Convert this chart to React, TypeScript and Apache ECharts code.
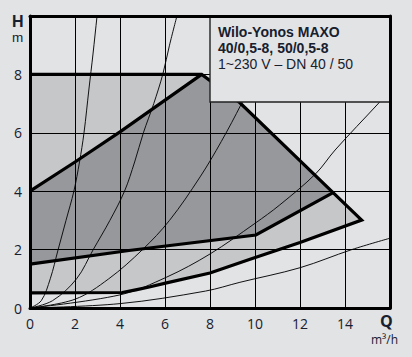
import React, { useEffect, useRef } from "react";
import * as echarts from "echarts";

// Operating envelope (Q in m³/h, H in m)
const maxEnvelope: number[][] = [[0, 8], [7.63, 8], [9.33, 7.03], [13.47, 3.95], [14.74, 3.01]];
const minCurve: number[][] = [[0, 0.52], [4.1, 0.53], [4.7, 0.62], [5.3, 0.72], [6.07, 0.86], [8, 1.2], [9.78, 1.67], [12, 2.24], [14.74, 3.01]];
const upperDark: number[][] = [[0, 4], [2, 5], [4, 6.03], [7.63, 8]];
const lowerDark: number[][] = [[0, 1.5], [4.4, 1.97], [10.04, 2.5], [13.47, 3.95]];

// System curves
const sysA: number[][] = [[0, 0], [0.5, 0.25], [0.9, 1.0], [1.25, 2.0], [1.6, 3.0], [1.95, 4.0], [2.2, 5.0], [2.4, 6.0], [2.62, 7.5], [2.8, 8.7], [2.98, 10], [3.05, 10.5]];
const sysB: number[][] = [[0, 0], [1, 0.25], [2.07, 1], [2.81, 2], [3.55, 3], [4.2, 4], [4.65, 5], [5.04, 6], [5.5, 7], [5.9, 8], [6.2, 9], [6.53, 10]];
const sysC: number[][] = [[0, 0], [2, 0.3], [3.5, 1.0], [5.0, 2.0], [6.2, 3.0], [7.56, 4.49], [8.5, 5.7], [9.4, 7.0], [10.4, 8.6], [11.2, 10]];
const sysD: number[][] = [[0, 0], [4, 0.45], [6.08, 1.06], [8, 1.85], [10, 2.9], [11.1, 3.53], [12.7, 4.6], [13.56, 5.41], [15.5, 7.02], [16, 7.45]];
const sysE: number[][] = [[0, 0], [4, 0.15], [7.8, 0.58], [9.33, 0.88], [12, 1.38], [14.3, 2.0], [16, 2.39]];

const xMax = 16;
const yMax = 10;
const tickStep = 2;

const titleLines = ["Wilo-Yonos MAXO", "40/0,5-8, 50/0,5-8", "1~230 V – DN 40 / 50"];

const GRID = { left: 30, top: 16, right: 22, bottom: 49 };
const W = 412;
const H = 357;
const FONT = "'Open Sans', 'Noto Sans', sans-serif";
const LFONT = "'Liberation Sans', Arial, sans-serif";
const TXT = "#17202e";

export default function App() {
  const ref = useRef<HTMLDivElement>(null);
  useEffect(() => {
    if (!ref.current) return;
    const chart = echarts.init(ref.current, undefined, { renderer: "svg" });

    const lightPoly = [...maxEnvelope, ...minCurve.slice(0, -1).reverse()];
    const darkPoly = [...upperDark, ...maxEnvelope.slice(2, 4), ...lowerDark.slice(0, -1).reverse()];
    const envelopeLine = [...maxEnvelope, ...minCurve.slice(0, -1).reverse()];

    const poly = (pts: number[][], color: string, z: number) => ({
      type: "custom",
      data: pts,
      z,
      silent: true,
      clip: true,
      encode: { x: 0, y: 1 },
      renderItem: (params: any, api: any) => {
        if (params.dataIndex !== 0) return null;
        return {
          type: "polygon",
          shape: { points: pts.map((p) => api.coord(p)) },
          style: { fill: color, stroke: "none" },
        };
      },
    });

    const bold = (pts: number[][]) => ({
      type: "line",
      data: pts,
      showSymbol: false,
      symbol: "none",
      silent: true,
      z: 5,
      lineStyle: { color: "#000", width: 3.2, join: "miter", cap: "butt" },
    });

    const thin = (pts: number[][]) => ({
      type: "line",
      data: pts,
      showSymbol: false,
      symbol: "none",
      silent: true,
      smooth: 0.35,
      z: 3,
      lineStyle: { color: "#111", width: 1 },
    });

    const plotW = W - GRID.left - GRID.right;
    const boxX = GRID.left + (8 / xMax) * plotW;
    const boxH = 86;

    chart.setOption({
      animation: false,
      backgroundColor: "#e2e3e5",
      grid: { ...GRID, containLabel: false },
      xAxis: [
        {
          type: "value",
          min: 0,
          max: xMax,
          interval: tickStep,
          position: "bottom",
          z: 10,
          axisLine: { show: true, onZero: false, lineStyle: { color: "#000", width: 3 } },
          axisTick: { show: false },
          splitLine: { show: true, lineStyle: { color: "#000", width: 1 } },
          axisLabel: {
            color: TXT,
            fontSize: 14,
            fontFamily: FONT,
            margin: 8,
            formatter: (v: number) => (v === xMax ? "" : String(v)),
          },
        },
        {
          type: "value",
          min: 0,
          max: xMax,
          position: "top",
          z: 60,
          axisLine: { show: true, onZero: false, lineStyle: { color: "#000", width: 3 } },
          axisTick: { show: false },
          splitLine: { show: false },
          axisLabel: { show: false },
        },
      ],
      yAxis: [
        {
          type: "value",
          min: 0,
          max: yMax,
          interval: tickStep,
          position: "left",
          z: 10,
          axisLine: { show: true, onZero: false, lineStyle: { color: "#000", width: 3 } },
          axisTick: { show: false },
          splitLine: { show: true, lineStyle: { color: "#000", width: 1 } },
          axisLabel: {
            color: TXT,
            fontSize: 14,
            fontFamily: FONT,
            margin: 8,
            formatter: (v: number) => (v === yMax ? "" : String(v)),
          },
        },
        {
          type: "value",
          min: 0,
          max: yMax,
          position: "right",
          z: 60,
          axisLine: { show: true, onZero: false, lineStyle: { color: "#000", width: 3 } },
          axisTick: { show: false },
          splitLine: { show: false },
          axisLabel: { show: false },
        },
      ],
      series: [
        poly(lightPoly, "#c6c7c9", 1),
        poly(darkPoly, "#97989c", 2),
        thin(sysA),
        thin(sysB),
        thin(sysC),
        thin(sysD),
        thin(sysE),
        bold(envelopeLine),
        bold(upperDark),
        bold(lowerDark),
      ],
      graphic: [
        {
          type: "rect",
          z: 50,
          silent: true,
          shape: { x: boxX, y: GRID.top, width: W - GRID.right - boxX, height: boxH },
          style: { fill: "#e2e3e5", stroke: "#222", lineWidth: 1.4 },
        },
        ...titleLines.map((t, i) => ({
          type: "text",
          z: 55,
          silent: true,
          x: boxX + 8,
          y: GRID.top + 9 + i * 16.2,
          style: {
            text: t,
            fill: TXT,
            font: `${i < 2 ? "bold " : ""}14px ${LFONT}`,
            textVerticalAlign: "top",
          },
        })),
        {
          type: "text",
          z: 55,
          x: 12,
          y: 13,
          style: { text: "H", fill: TXT, font: `bold 16px ${LFONT}` },
        },
        {
          type: "text",
          z: 55,
          x: 12,
          y: 30,
          style: { text: "m", fill: TXT, font: `13.5px ${LFONT}` },
        },
        {
          type: "text",
          z: 55,
          x: 380,
          y: 313,
          style: { text: "Q", fill: TXT, font: `bold 16px ${FONT}` },
        },
        {
          type: "text",
          z: 55,
          x: 371,
          y: 333,
          style: { text: "m³/h", fill: TXT, font: `12px ${FONT}` },
        },
      ],
    });
    return () => chart.dispose();
  }, []);

  return (
    <div
      ref={ref}
      style={{ position: "fixed", left: 0, top: 0, width: W, height: H, background: "#e2e3e5" }}
    />
  );
}
